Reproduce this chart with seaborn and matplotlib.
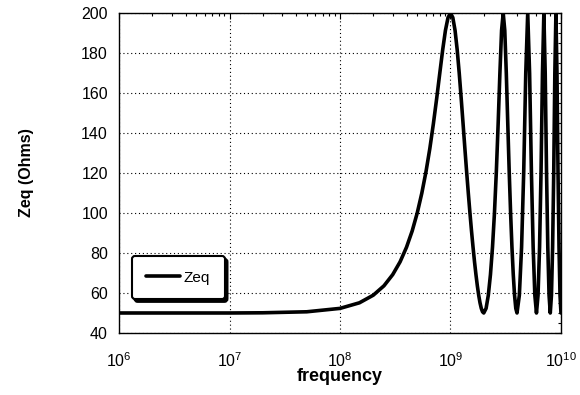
import numpy as np
import pandas as pd
import seaborn as sns
import matplotlib.pyplot as plt
from matplotlib.ticker import LogLocator, MultipleLocator, NullFormatter

# values: Zeq (Ohms) against frequency (Hz)
freq_sweep = [1e6, 1e7, 2e7, 5e7, 1e8, 1.5e8, 2e8, 2.5e8, 3e8, 3.5e8, 4e8, 4.5e8,
              5e8, 5.5e8, 6e8, 6.5e8, 7e8, 7.5e8, 8e8, 8.5e8, 9e8, 9.5e8, 1e9,
              1.05e9, 1.1e9, 1.15e9, 1.2e9, 1.25e9, 1.3e9, 1.35e9, 1.4e9, 1.45e9,
              1.5e9, 1.55e9, 1.6e9, 1.65e9, 1.7e9, 1.75e9, 1.8e9, 1.85e9, 1.9e9,
              1.95e9, 2e9]
zeq_sweep = [50.0, 50.0, 50.1, 50.6, 52.3, 55.1, 58.9, 63.6, 69.2, 75.6, 82.9, 91.0,
             100.0, 109.9, 120.6, 132.2, 144.6, 157.3, 169.9, 181.6, 191.3, 197.7, 200.0,
             197.7, 191.3, 181.6, 169.9, 157.3, 144.6, 132.2, 120.6, 109.9,
             100.0, 91.0, 82.9, 75.6, 69.2, 63.6, 58.9, 55.1, 52.3,
             50.6, 50.0]

freq_mid = [2.1e9, 2.2e9, 2.3e9, 2.4e9, 2.5e9, 2.6e9, 2.7e9, 2.8e9, 2.9e9, 3.0e9,
            3.1e9, 3.2e9, 3.3e9, 3.4e9, 3.5e9, 3.6e9, 3.7e9, 3.8e9, 3.9e9, 4.0e9]
zeq_mid = [52.3, 58.9, 69.2, 82.9, 100.0, 120.6, 144.6, 169.9, 191.3, 200.0,
           191.3, 169.9, 144.6, 120.6, 100.0, 82.9, 69.2, 58.9, 52.3, 50.0]

freq_high = [4.2e9, 4.4e9, 4.6e9, 4.8e9, 5.0e9, 5.2e9, 5.4e9, 5.6e9, 5.8e9, 6.0e9,
             6.2e9, 6.4e9, 6.6e9, 6.8e9, 7.0e9, 7.2e9, 7.4e9, 7.6e9, 7.8e9, 8.0e9,
             8.2e9, 8.4e9, 8.6e9, 8.8e9, 9.0e9, 9.2e9, 9.4e9, 9.6e9, 9.8e9, 1.0e10]
zeq_high = [58.9, 82.9, 120.6, 169.9, 200.0, 169.9, 120.6, 82.9, 58.9, 50.0,
            58.9, 82.9, 120.6, 169.9, 200.0, 169.9, 120.6, 82.9, 58.9, 50.0,
            58.9, 82.9, 120.6, 169.9, 200.0, 169.9, 120.6, 82.9, 58.9, 50.0]

df = pd.DataFrame({'frequency': freq_sweep + freq_mid + freq_high,
                   'Zeq': zeq_sweep + zeq_mid + zeq_high})

sns.set_theme(style='white')
plt.rcParams['font.family'] = ['Liberation Sans', 'DejaVu Sans']
plt.rcParams['mathtext.fontset'] = 'custom'
plt.rcParams['mathtext.rm'] = 'Liberation Sans'
plt.rcParams['text.color'] = 'black'
plt.rcParams['axes.labelcolor'] = 'black'

fig = plt.figure(figsize=(5.8, 3.95), dpi=100)
ax = fig.add_axes([0.2052, 0.157, 0.762, 0.81])

sns.lineplot(data=df, x='frequency', y='Zeq', color='black', linewidth=2.6,
             label='Zeq', ax=ax, sort=False)

ax.set_xscale('log')
ax.set_xlim(1e6, 1e10)
ax.set_ylim(40, 200)
ax.yaxis.set_major_locator(MultipleLocator(20))
ax.yaxis.set_minor_locator(MultipleLocator(5))
ax.xaxis.set_major_locator(LogLocator(base=10, numticks=10))
ax.xaxis.set_minor_locator(LogLocator(base=10, subs=np.arange(2, 10), numticks=20))
ax.xaxis.set_minor_formatter(NullFormatter())

ax.grid(True, which='major', color='black', linestyle=(0, (1, 2.5)), linewidth=0.8)
ax.tick_params(which='both', direction='in', top=True, right=True, colors='black',
               labelsize=11.5, width=0.8)
ax.tick_params(which='major', length=4)
ax.tick_params(which='minor', length=2.5)
ax.tick_params(axis='x', pad=13)
ax.tick_params(axis='y', pad=8)
for s in ax.spines.values():
    s.set_color('black')
    s.set_linewidth(1.0)

ax.set_xlabel('frequency', fontsize=13, fontweight='bold', labelpad=-1)
ax.set_ylabel('Zeq (Ohms)', fontsize=11.5, fontweight='bold', labelpad=34)

leg = ax.legend(loc='lower left', bbox_to_anchor=(0.029, 0.106), borderaxespad=0,
                fontsize=11, handlelength=2.2, borderpad=0.95, handletextpad=0.25,
                fancybox=True, framealpha=1, edgecolor='black',
                shadow={'color': 'black', 'alpha': 1, 'ox': 2, 'oy': -2})
leg.get_frame().set_linewidth(1.5)

plt.savefig('out.png', dpi=100)
